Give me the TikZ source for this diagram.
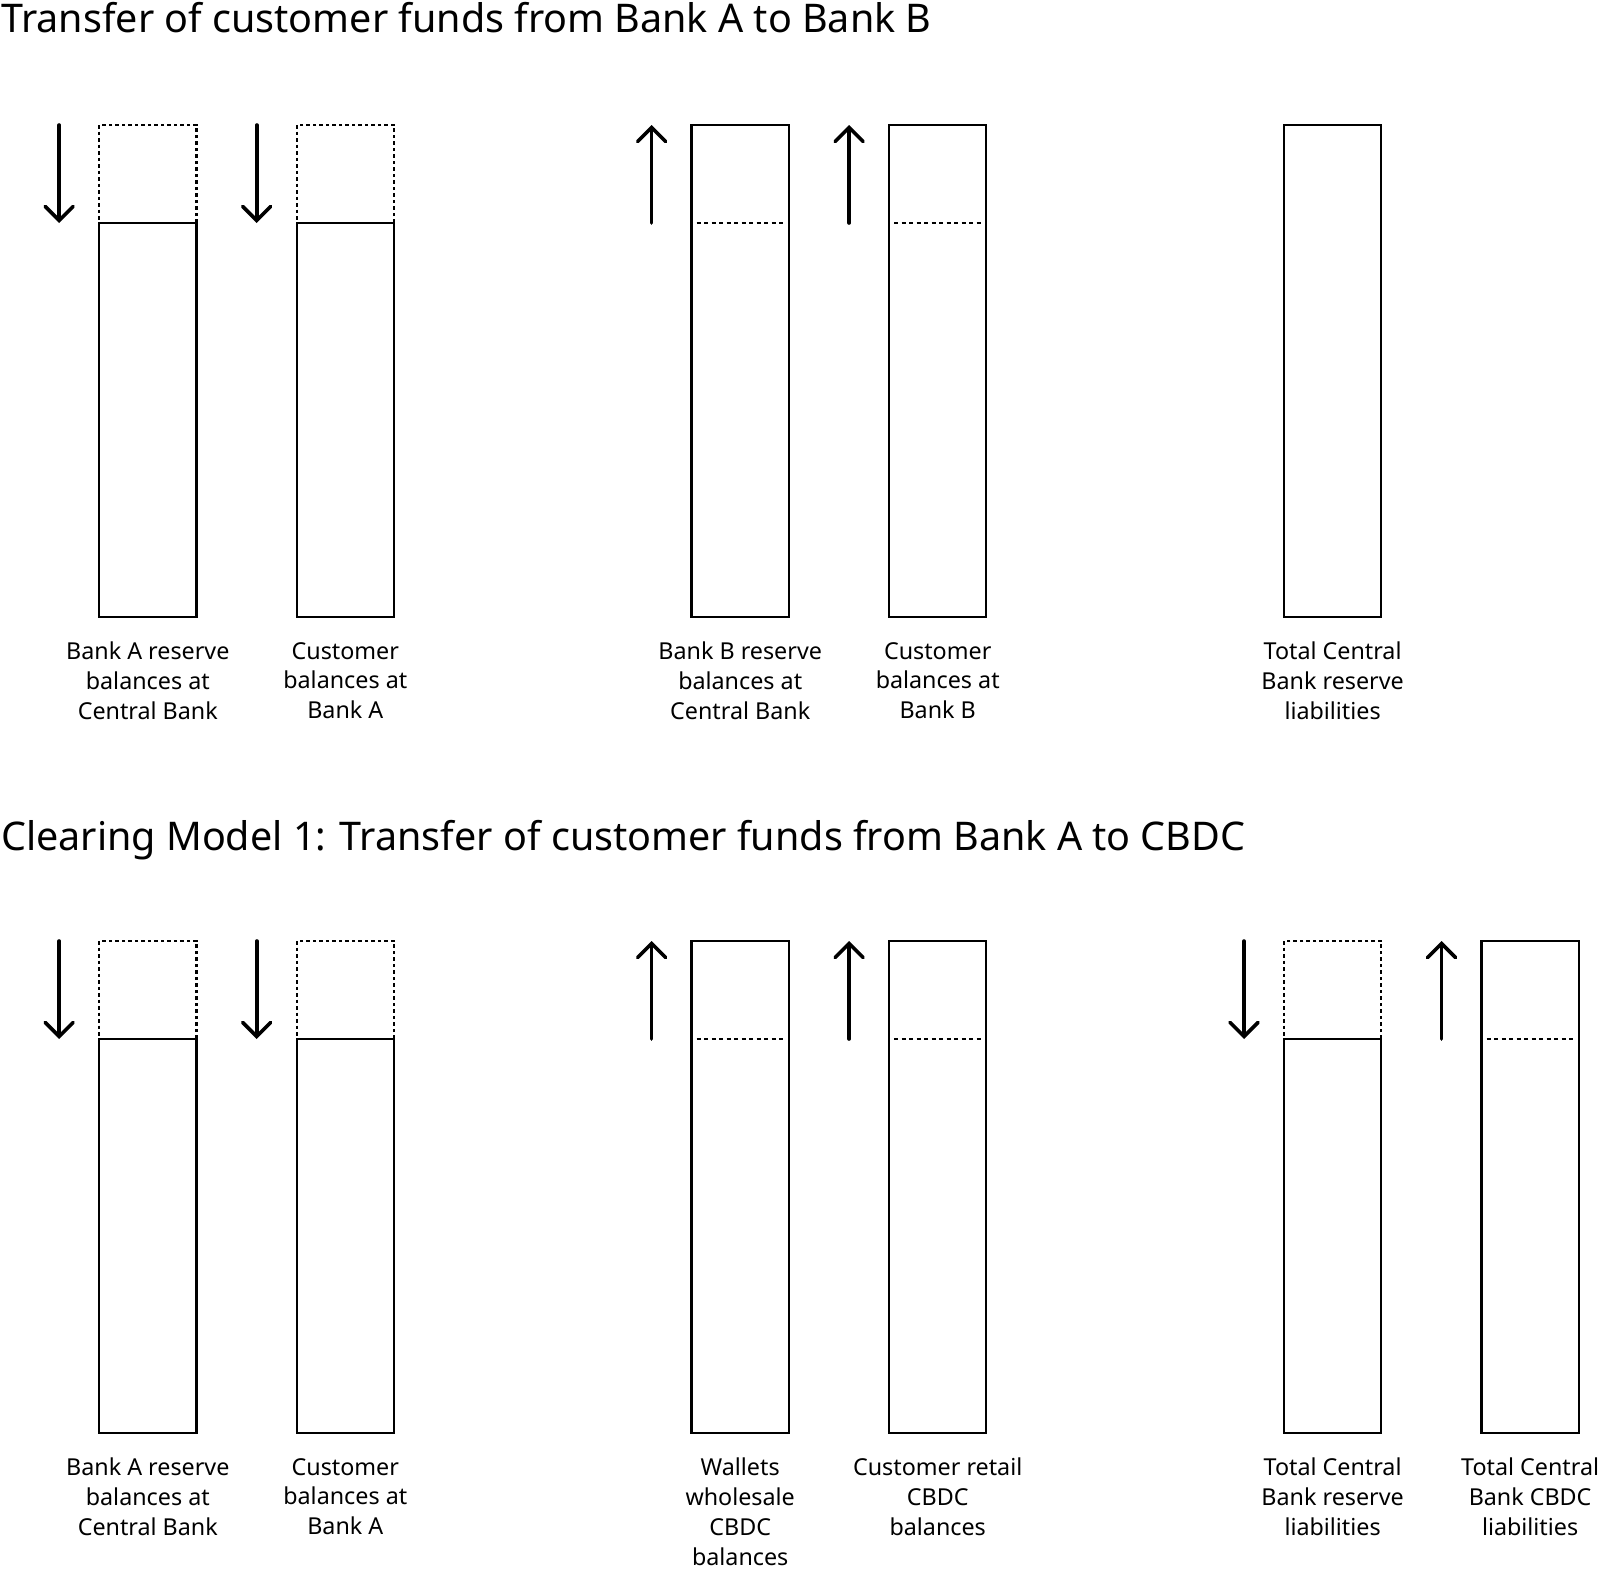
\documentclass[tikz,border=0pt]{standalone}
\usepackage{fontspec}
\setmainfont{Noto Sans}
\usetikzlibrary{positioning, arrows.meta}

\begin{document}
\begin{tikzpicture}[x=1pt, y=1pt, >={Straight Barb[length=14pt, width=28pt, line cap=round]},
    bar/.style={draw, line width=2.3pt, inner sep=0pt, outer sep=0pt, minimum width=97.2pt},
    ghost/.style={bar, dash pattern=on 3.5pt off 3pt},
    level/.style={line width=2.3pt, dash pattern=on 4pt off 3.5pt},
    flow/.style={->, line width=3.6pt, line cap=round},
    caption/.style={align=center, font=\fontsize{23.3}{29.7}\selectfont, inner sep=0pt},
    heading/.style={font=\fontsize{39.5}{46}\selectfont, inner sep=0pt, anchor=base west}]

    \useasboundingbox (0,0) rectangle (1604,-1569);

    % Headings
    \node[heading] (h1) at (1,-32) {Transfer of customer funds from Bank A to Bank B};
    \node[heading] (h2) at (1,-850) {Clearing Model 1: Transfer of customer funds from Bank A to CBDC};

    % Top row: Bank A side (decrease)
    \node[ghost, minimum height=98pt, anchor=north] (g1) at (147.8,-125) {};
    \node[bar, minimum height=394pt, below=0pt of g1] (r1) {};
    \node[ghost, minimum height=98pt, right=100.3pt of g1] (g2) {};
    \node[bar, minimum height=394pt, below=0pt of g2] (r2) {};

    % Top row: Bank B side (increase)
    \node[bar, minimum height=492pt, right=297.7pt of g2.north east, anchor=north west] (r3) {};
    \node[bar, minimum height=492pt, right=100.3pt of r3.north east, anchor=north west] (r4) {};

    % Top row: central bank total
    \node[bar, minimum height=492pt, right=297.7pt of r4.north east, anchor=north west] (r5) {};

    % Top row: levels before increase
    \draw[level] ([xshift=5pt, yshift=-98pt]r3.north west) -- ([xshift=-5pt, yshift=-98pt]r3.north east);
    \draw[level] ([xshift=5pt, yshift=-98pt]r4.north west) -- ([xshift=-5pt, yshift=-98pt]r4.north east);

    % Top row: arrows
    \coordinate[left=40pt of g1.north west] (a1s);
    \coordinate[left=40pt of g1.south west] (a1e);
    \coordinate[left=40pt of g2.north west] (a2s);
    \coordinate[left=40pt of g2.south west] (a2e);
    \coordinate[left=40pt of r3.north west] (a3e);
    \coordinate[below=98pt of a3e] (a3s);
    \coordinate[left=40pt of r4.north west] (a4e);
    \coordinate[below=98pt of a4e] (a4s);
    \draw[flow] (a1s) -- (a1e);
    \draw[flow] (a2s) -- (a2e);
    \draw[flow] (a3s) -- (a3e);
    \draw[flow] (a4s) -- (a4e);

    % Top row: captions
    \node[caption, below=25pt of r1] (c1) {Bank A reserve\\balances at\\Central Bank};
    \node[caption, below=25pt of r2] (c2) {Customer\\balances at\\Bank A};
    \node[caption, below=25pt of r3] (c3) {Bank B reserve\\balances at\\Central Bank};
    \node[caption, below=25pt of r4] (c4) {Customer\\balances at\\Bank B};
    \node[caption, below=25pt of r5] (c5) {Total Central\\Bank reserve\\liabilities};

    % Bottom row: Bank A side (decrease)
    \node[ghost, minimum height=98pt, anchor=north] (g6) at (147.8,-941) {};
    \node[bar, minimum height=394pt, below=0pt of g6] (r6) {};
    \node[ghost, minimum height=98pt, right=100.3pt of g6] (g7) {};
    \node[bar, minimum height=394pt, below=0pt of g7] (r7) {};

    % Bottom row: CBDC side (increase)
    \node[bar, minimum height=492pt, right=297.7pt of g7.north east, anchor=north west] (r8) {};
    \node[bar, minimum height=492pt, right=100.3pt of r8.north east, anchor=north west] (r9) {};

    % Bottom row: central bank totals
    \node[ghost, minimum height=98pt, right=297.7pt of r9.north east, anchor=north west] (g10) {};
    \node[bar, minimum height=394pt, below=0pt of g10] (r10) {};
    \node[bar, minimum height=492pt, right=100.3pt of g10.north east, anchor=north west] (r11) {};

    % Bottom row: levels before increase
    \draw[level] ([xshift=5pt, yshift=-98pt]r8.north west) -- ([xshift=-5pt, yshift=-98pt]r8.north east);
    \draw[level] ([xshift=5pt, yshift=-98pt]r9.north west) -- ([xshift=-5pt, yshift=-98pt]r9.north east);
    \draw[level] ([xshift=5pt, yshift=-98pt]r11.north west) -- ([xshift=-5pt, yshift=-98pt]r11.north east);

    % Bottom row: arrows
    \coordinate[left=40pt of g6.north west] (a6s);
    \coordinate[left=40pt of g6.south west] (a6e);
    \coordinate[left=40pt of g7.north west] (a7s);
    \coordinate[left=40pt of g7.south west] (a7e);
    \coordinate[left=40pt of r8.north west] (a8e);
    \coordinate[below=98pt of a8e] (a8s);
    \coordinate[left=40pt of r9.north west] (a9e);
    \coordinate[below=98pt of a9e] (a9s);
    \coordinate[left=40pt of g10.north west] (a10s);
    \coordinate[left=40pt of g10.south west] (a10e);
    \coordinate[left=40pt of r11.north west] (a11e);
    \coordinate[below=98pt of a11e] (a11s);
    \draw[flow] (a6s) -- (a6e);
    \draw[flow] (a7s) -- (a7e);
    \draw[flow] (a8s) -- (a8e);
    \draw[flow] (a9s) -- (a9e);
    \draw[flow] (a10s) -- (a10e);
    \draw[flow] (a11s) -- (a11e);

    % Bottom row: captions
    \node[caption, below=25pt of r6] (c6) {Bank A reserve\\balances at\\Central Bank};
    \node[caption, below=25pt of r7] (c7) {Customer\\balances at\\Bank A};
    \node[caption, below=25pt of r8] (c8) {Wallets\\wholesale\\CBDC\\balances};
    \node[caption, below=25pt of r9] (c9) {Customer retail\\CBDC\\balances};
    \node[caption, below=25pt of r10] (c10) {Total Central\\Bank reserve\\liabilities};
    \node[caption, below=25pt of r11] (c11) {Total Central\\Bank CBDC\\liabilities};

\end{tikzpicture}
\end{document}
